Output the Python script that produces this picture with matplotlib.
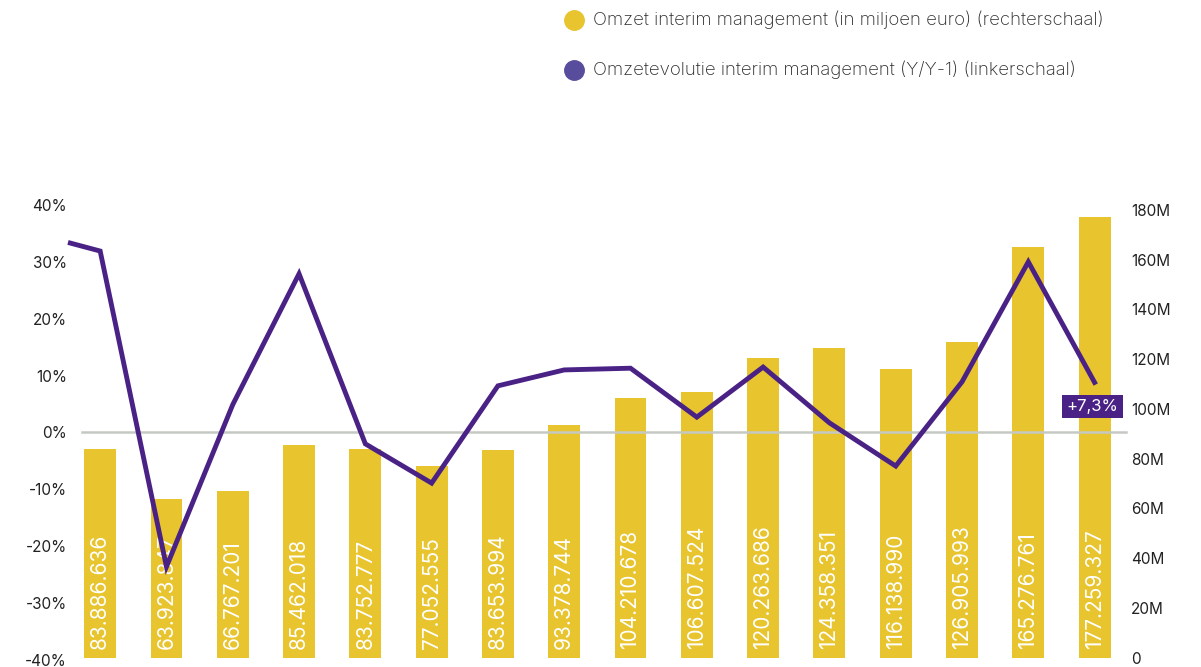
import matplotlib
matplotlib.use("Agg")
import matplotlib.pyplot as plt
from matplotlib.lines import Line2D
from matplotlib.ticker import FuncFormatter

plt.rcParams['font.family'] = ['Inter', 'DejaVu Sans']

# Data
bar_values = [83886636, 63923847, 66767201, 85462018, 83752777, 77052555,
              83653994, 93378744, 104210678, 106607524, 120263686, 124358351,
              116138990, 126905993, 165276761, 177259327]
bar_labels = ["83.886.636", "63.923.847", "66.767.201", "85.462.018", "83.752.777",
              "77.052.555", "83.653.994", "93.378.744", "104.210.678", "106.607.524",
              "120.263.686", "124.358.351", "116.138.990", "126.905.993",
              "165.276.761", "177.259.327"]
line_x = [-0.45, 0, 1, 2, 3, 4, 5, 6, 7, 8, 9, 10, 11, 12, 13, 14, 15]
line_values = [33.3, 31.9, -23.6, 4.9, 27.9, -2.0, -8.9, 8.2, 11.0, 11.3, 2.7,
               11.5, 1.7, -5.9, 8.9, 30.0, 8.8]
last_label = "+7,3%"
left_ticks = [-40, -30, -20, -10, 0, 10, 20, 30, 40]
right_ticks = [0, 20e6, 40e6, 60e6, 80e6, 100e6, 120e6, 140e6, 160e6, 180e6]
legend_labels = ["Omzet interim management (in miljoen euro) (rechterschaal)",
                 "Omzetevolutie interim management (Y/Y-1) (linkerschaal)"]

YELLOW = "#E8C42E"
PURPLE = "#4A2286"
LEG_PURPLE = "#574D9C"
TXT = "#222222"

fig = plt.figure(figsize=(12.01, 6.67), dpi=100)
ax = fig.add_axes([0.0558, 0.0105, 0.8832, 0.6822])
ax2 = ax.twinx()

x = list(range(len(bar_values)))
ax2.bar(x, bar_values, width=0.48, color=YELLOW, zorder=1)
for xi, lab in zip(x, bar_labels):
    ax2.annotate(lab, (xi, 0), xytext=(0, 9), textcoords='offset pixels',
                 rotation=90, ha='center', va='bottom', color='white',
                 fontsize=15, zorder=3)
ax2.set_ylim(-1e6, 182e6)
ax2.set_yticks(right_ticks)
ax2.yaxis.set_major_formatter(FuncFormatter(lambda v, p: "0" if v == 0 else f"{int(v/1e6)}M"))

ax.axhline(0, xmin=0.014, xmax=0.998, color="#C5C9C3", lw=1.8, zorder=0)
ax.set_zorder(ax2.get_zorder() + 1)
ax.patch.set_visible(False)
ax.plot(line_x, line_values, color=PURPLE, lw=3.5, solid_joinstyle='miter', zorder=4)
ax.annotate(last_label, (line_x[-1], line_values[-1]), xytext=(-2, -24),
            textcoords='offset pixels', ha='center', va='center', color='white',
            fontsize=12, bbox=dict(boxstyle='square,pad=0.25', fc=PURPLE, ec='none'))
ax.set_ylim(-40, 40)
ax.set_yticks(left_ticks)
ax.yaxis.set_major_formatter(FuncFormatter(lambda v, p: f"{int(v)}%"))
ax.set_xlim(-0.5, 15.5)
ax.set_xticks([])

for a in (ax, ax2):
    for s in a.spines.values():
        s.set_visible(False)
    a.tick_params(axis='y', length=0, labelsize=11, labelcolor=TXT)
ax.tick_params(axis='y', pad=0)
ax2.tick_params(axis='y', pad=2.5)

# Legend
for i, (lab, col) in enumerate(zip(legend_labels, [YELLOW, LEG_PURPLE])):
    yy = 1 - (20 + 50 * i) / 667
    fig.add_artist(Line2D([574 / 1201], [yy], marker='o', markersize=14,
                          color=col, transform=fig.transFigure, linestyle='none'))
    fig.text(593 / 1201, yy, lab, ha='left', va='center', fontsize=13.4,
             color="#2a2a2a", fontweight='light')

fig.savefig("out.png", dpi=100)
